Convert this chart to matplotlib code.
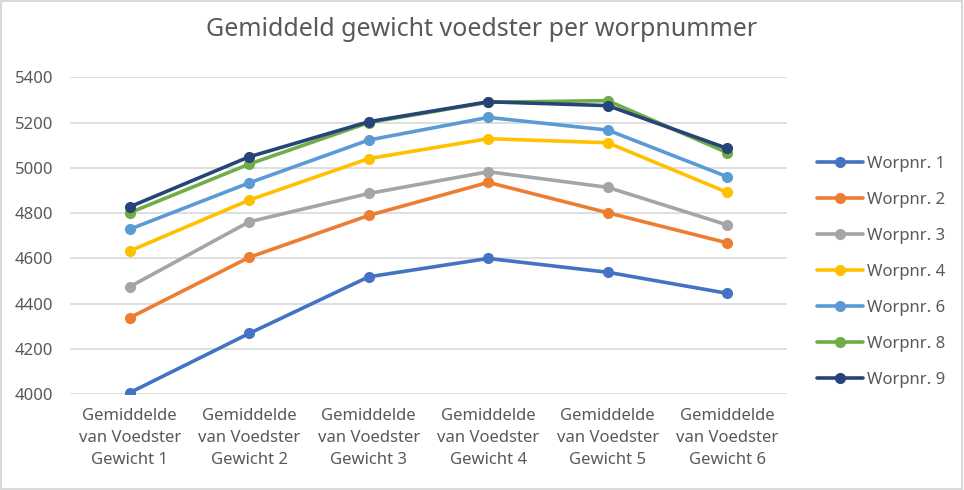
import matplotlib
matplotlib.use("Agg")
import matplotlib.pyplot as plt

plt.rcParams['font.family'] = ['Noto Sans', 'DejaVu Sans']

# categories and series
categories = ["Gemiddelde\nvan Voedster\nGewicht %d" % i for i in range(1, 7)]
series_names = ["Worpnr. 1", "Worpnr. 2", "Worpnr. 3", "Worpnr. 4",
                "Worpnr. 6", "Worpnr. 8", "Worpnr. 9"]
worp1 = [4007, 4269, 4519, 4600, 4539, 4446]
worp2 = [4338, 4605, 4790, 4936, 4802, 4669]
worp3 = [4475, 4762, 4887, 4983, 4914, 4748]
worp4 = [4633, 4858, 5041, 5129, 5111, 4892]
worp6 = [4729, 4934, 5123, 5223, 5167, 4961]
worp8 = [4802, 5017, 5200, 5290, 5297, 5067]
worp9 = [4828, 5049, 5204, 5292, 5275, 5086]
yticks = [4000, 4200, 4400, 4600, 4800, 5000, 5200, 5400]

colors = ["#4472C4", "#ED7D31", "#A5A5A5", "#FFC000",
          "#5B9BD5", "#70AD47", "#264478"]
text_col = "#595959"

fig = plt.figure(figsize=(9.64, 4.9), dpi=100)
ax = fig.add_axes([0.0726, 0.1953, 0.7438, 0.6469])

x = range(len(categories))
for name, vals, c in zip(series_names,
                         [worp1, worp2, worp3, worp4, worp6, worp8, worp9],
                         colors):
    ax.plot(x, vals, color=c, lw=2.6, marker="o", markersize=7,
            label=name, solid_capstyle="round")

ax.set_xlim(-0.5, len(categories) - 0.5)
ax.set_ylim(4000, 5400)
ax.set_yticks(yticks)
ax.set_xticks(list(x))
ax.set_xticklabels(categories, linespacing=1.5)
ax.grid(axis="y", color="#d9d9d9", lw=1.2)
ax.set_axisbelow(True)
for s in ax.spines.values():
    s.set_visible(False)
ax.tick_params(axis="both", length=0, labelsize=12, colors=text_col)
ax.tick_params(axis="y", pad=12)
ax.tick_params(axis="x", pad=10)

fig.suptitle("Gemiddeld gewicht voedster per worpnummer", x=0.5, y=0.965,
             fontsize=18, color=text_col)

# legend sits a bit below the middle of the plot area
fig.legend(loc="center left", bbox_to_anchor=(0.847, 0.445), frameon=False,
           fontsize=12, labelspacing=1.2, handlelength=2.8,
           handletextpad=0.2, labelcolor=text_col, borderaxespad=0,
           borderpad=0)

# light border around the figure
fig.patches.append(plt.Rectangle((0.001, 0.002), 0.997, 0.996,
                                 transform=fig.transFigure, fill=False,
                                 edgecolor="#d9d9d9", lw=1.5))

fig.savefig("out.png", dpi=100)
